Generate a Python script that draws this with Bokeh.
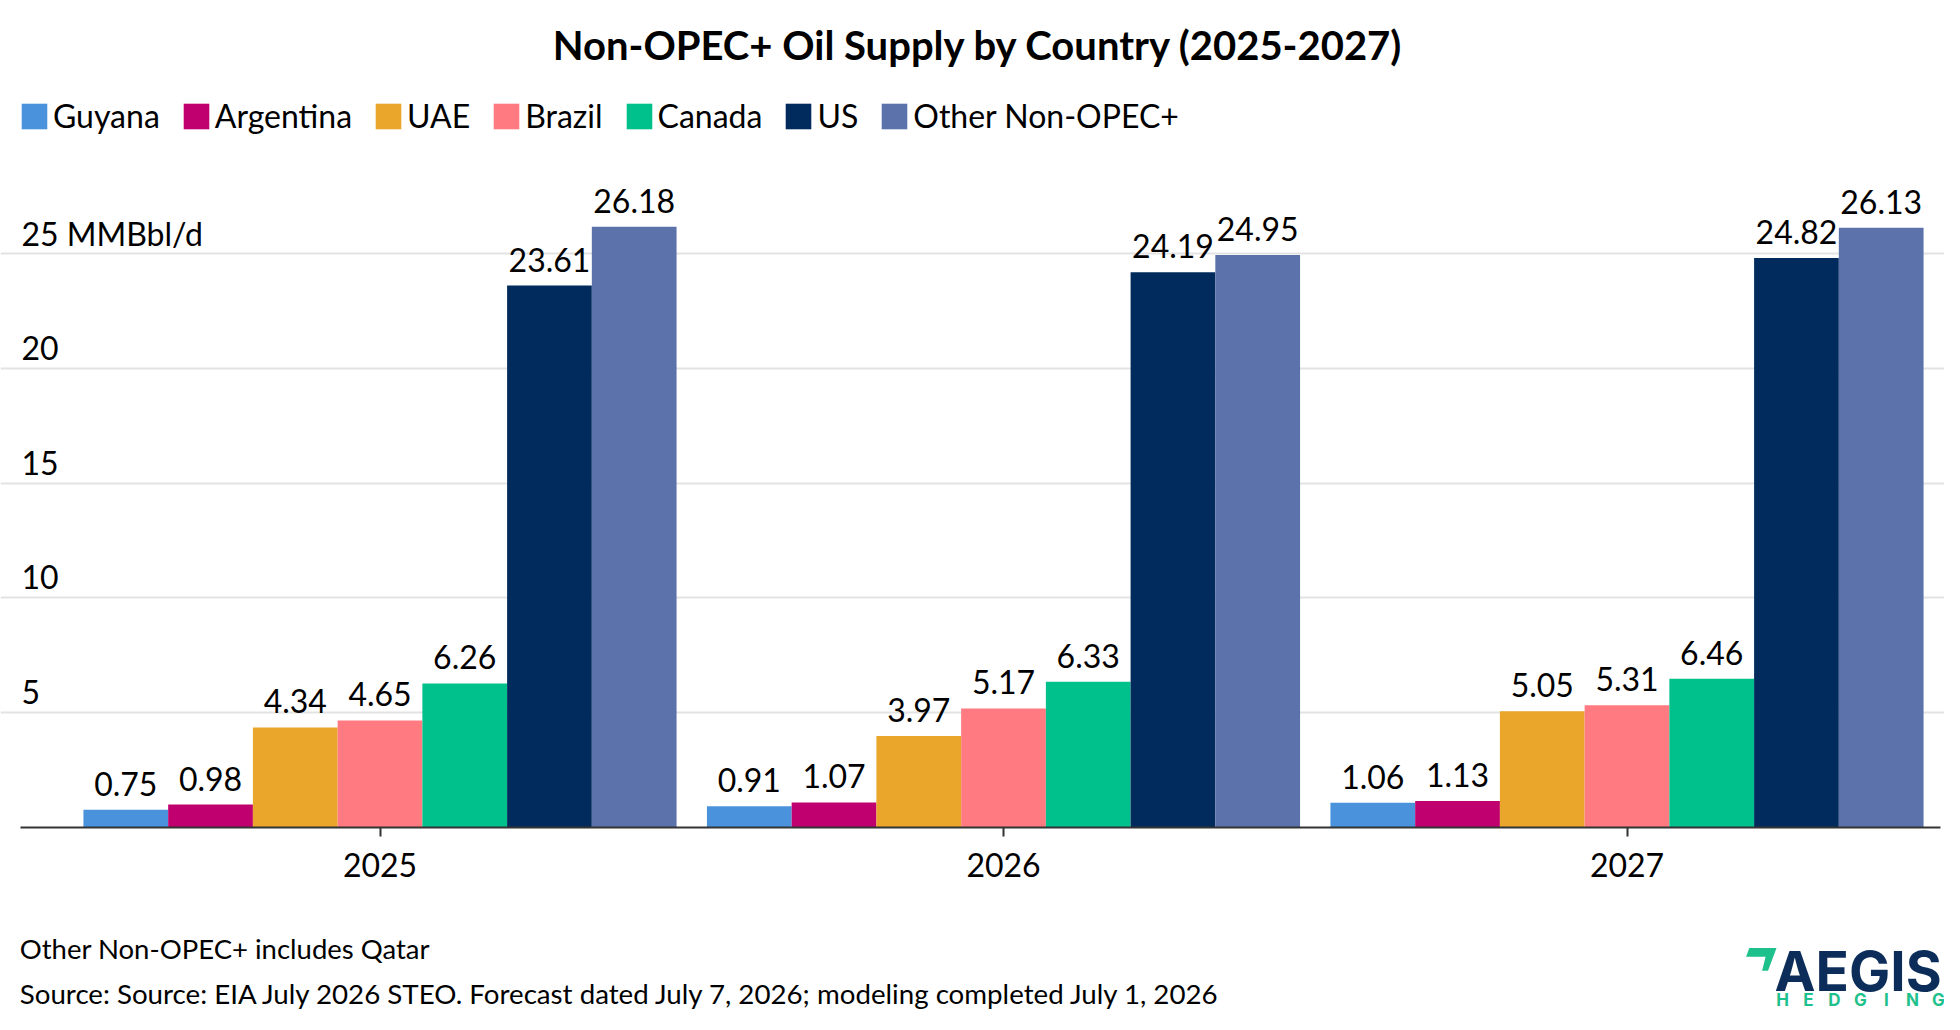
from bokeh.plotting import figure
from bokeh.models import (ColumnDataSource, Range1d, FixedTicker, Legend, LegendItem,
                          Label, PolyAnnotation)
from bokeh.transform import dodge
from bokeh.core.properties import value
from bokeh.embed import file_html
from bokeh.resources import INLINE

years = ["2025", "2026", "2027"]
countries = ["Guyana", "Argentina", "UAE", "Brazil", "Canada", "US", "Other Non-OPEC+"]
colors = ["#4a93dc", "#c1006f", "#eaa52b", "#ff7b81", "#00c18b", "#002b5c", "#5b73aa"]

guyana = [0.75, 0.91, 1.06]
argentina = [0.98, 1.07, 1.13]
uae = [4.34, 3.97, 5.05]
brazil = [4.65, 5.17, 5.31]
canada = [6.26, 6.33, 6.46]
us = [23.61, 24.19, 24.82]
other = [26.18, 24.95, 26.13]

y_ticks = [5, 10, 15, 20, 25]
y_tick_labels = ["5", "10", "15", "20", "25 MMBbl/d"]

title = "Non-OPEC+ Oil Supply by Country (2025-2027)"
note1 = "Other Non-OPEC+ includes Qatar"
note2 = "Source: Source: EIA July 2026 STEO. Forecast dated July 7, 2026; modeling completed July 1, 2026"

FONT = "Lato"
FS = "32px"
series = [guyana, argentina, uae, brazil, canada, us, other]
keys = ["s%d" % i for i in range(len(countries))]

data = {"x": list(range(len(years)))}
for k, vals in zip(keys, series):
    data[k] = vals
    data[k + "_lab"] = ["%.2f" % v for v in vals]
source = ColumnDataSource(data=data)

# plot area spans the whole canvas so that title, legend and notes are not clipped
W, H = 1944, 1014
px_x = 623.5   # pixels per group
px_y = 22.93   # pixels per MMBbl/d
x0 = -379.5 / px_x
y0 = -(H - 826.5) / px_y
axis_lo, axis_hi = -0.5766, 2.5028
bw = 0.1359

p = figure(width=W, height=H, output_backend="svg", toolbar_location=None,
           x_range=Range1d(x0, x0 + W / px_x), y_range=Range1d(y0, y0 + H / px_y),
           min_border=0)
p.outline_line_color = None
p.yaxis.visible = False
p.xgrid.grid_line_color = None
p.ygrid.ticker = FixedTicker(ticks=y_ticks)
p.ygrid.bounds = (axis_lo, axis_hi)
p.ygrid.grid_line_color = "#e3e3e3"
p.ygrid.grid_line_width = 2

p.xaxis.fixed_location = 0
p.xaxis.bounds = (axis_lo, axis_hi)
p.xaxis.ticker = FixedTicker(ticks=list(range(len(years))))
p.xaxis.major_label_overrides = {i: y for i, y in enumerate(years)}
p.xaxis.axis_line_color = "#333333"
p.xaxis.axis_line_width = 2
p.xaxis.major_tick_line_color = "#333333"
p.xaxis.major_tick_line_width = 2
p.xaxis.major_tick_in = 0
p.xaxis.major_tick_out = 9
p.xaxis.minor_tick_line_color = None
p.xaxis.major_label_text_font = FONT
p.xaxis.major_label_text_font_size = FS
p.xaxis.major_label_text_color = "black"
p.xaxis.major_label_standoff = 17

items = []
n = len(countries)
for i, (k, name, c) in enumerate(zip(keys, countries, colors)):
    off = (i - (n - 1) / 2) * bw
    r = p.vbar(x=dodge("x", off), top=k, width=bw, source=source,
               fill_color=c, line_color=None)
    p.text(x=dodge("x", off), y=k, text=k + "_lab", source=source,
           text_align="center", text_baseline="alphabetic", y_offset=-26,
           text_font=value(FONT), text_font_size=FS, text_color="black")
    items.append(LegendItem(label=name, renderers=[r]))

# y tick labels sit above the grid lines, left aligned
p.text(x=[axis_lo] * len(y_ticks), y=y_ticks, text=y_tick_labels,
       x_offset=1, y_offset=-20.5, text_align="left", text_baseline="alphabetic",
       text_font=value(FONT), text_font_size=FS, text_color="black")

legend = Legend(items=items, orientation="horizontal", location=(18, 879),
                glyph_width=32, glyph_height=32, label_standoff=3, spacing=20,
                padding=0, margin=0, border_line_color=None, background_fill_alpha=0,
                label_text_font=FONT, label_text_font_size=FS, label_text_color="black")
p.add_layout(legend)

p.add_layout(Label(x=978, y=969.3, x_units="screen", y_units="screen", text=title,
                   text_align="center", text_baseline="middle", text_font=FONT,
                   text_font_style="bold", text_font_size="40px", text_color="black"))
p.add_layout(Label(x=19.3, y=66.5, x_units="screen", y_units="screen", text=note1,
                   text_baseline="alphabetic", text_font=FONT, text_font_size="27.5px",
                   text_color="black"))
p.add_layout(Label(x=19.3, y=21.5, x_units="screen", y_units="screen", text=note2,
                   text_baseline="alphabetic", text_font=FONT, text_font_size="27.7px",
                   text_color="black"))

# logo
p.add_layout(PolyAnnotation(xs=[1748.8, 1776, 1767.5, 1761.6, 1765.1, 1745.6],
                            ys=[66.4, 66.4, 43.8, 43.8, 57.7, 57.7],
                            xs_units="screen", ys_units="screen",
                            fill_color="#1ec08b", fill_alpha=1, line_color=None))
p.add_layout(Label(x=1774, y=44, x_units="screen", y_units="screen", text="AEGIS",
                   text_baseline="alphabetic", text_font="Inter", text_font_style="bold",
                   text_font_size="55px", text_color="#0c2c5a"))
for j, ch in enumerate("HEDGING"):
    p.add_layout(Label(x=1782 + 26 * j, y=15, x_units="screen", y_units="screen",
                       text=ch, text_align="center", text_baseline="alphabetic",
                       text_font="Inter", text_font_style="bold", text_font_size="17px",
                       text_color="#1ec08b"))

open("out.html", "w").write(file_html(p, INLINE))
